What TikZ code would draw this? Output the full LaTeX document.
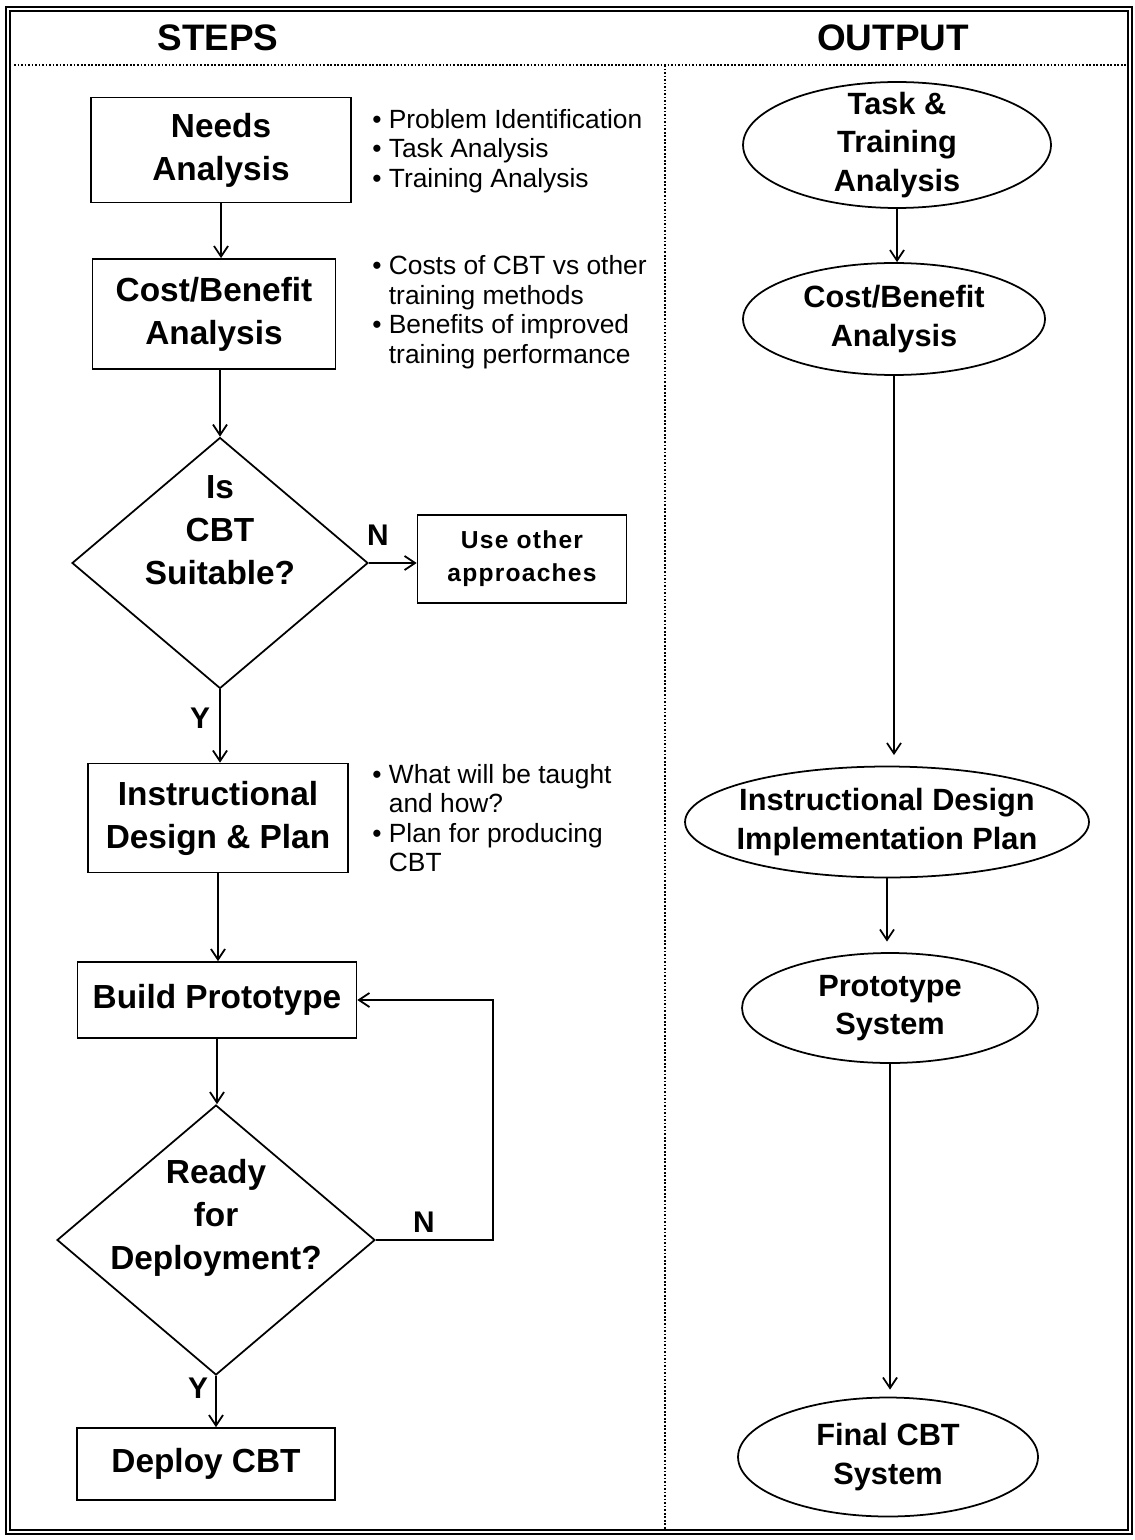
\documentclass[tikz,border=0pt]{standalone}
\usepackage{fontspec}
\setmainfont{Liberation Sans}
\newfontfamily\spacedfont[LetterSpace=5]{Liberation Sans}
\usetikzlibrary{shapes.geometric,arrows.meta}

\newcommand{\bul}{\textbullet\ }
\newcommand{\indt}{\hphantom{\textbullet\ }}

\begin{document}
\begin{tikzpicture}[x=0.02cm,y=-0.02cm,
    stepfont/.style={font=\bfseries\fontsize{19}{24.5}\selectfont,align=center},
    stepbox/.style={draw,line width=1pt,inner sep=0pt,stepfont},
    decision/.style={draw,diamond,line width=1pt,inner sep=0pt},
    outbox/.style={draw,ellipse,line width=1pt,inner sep=0pt},
    outtxt/.style={font=\bfseries\fontsize{17.5}{22}\selectfont,align=center},
    note/.style={anchor=west,inner sep=0pt,align=left,font=\fontsize{15}{16.8}\selectfont},
    yn/.style={font=\bfseries\fontsize{17}{17}\selectfont},
    arr/.style={line width=1pt,-{Straight Barb[length=6pt,width=8pt]}}]
    \useasboundingbox (0,0) rectangle (1134,1540);

    % frame and columns
    \draw[line width=0.8pt,double,double distance=1.5pt] (8,9) rectangle (1130,1532);
    \node[font=\bfseries\fontsize{21}{21}\selectfont] (steps) at (218,38) {STEPS};
    \node[font=\bfseries\fontsize{21}{21}\selectfont] (output) at (893,38) {OUTPUT};
    \draw[densely dotted,line width=1pt] (14,65) -- (1126,65);
    \draw[densely dotted,line width=1pt] (665,65) -- (665,1530);

    % steps
    \node[stepbox,minimum width=5.2cm,minimum height=2.1cm] (needs) at (221,150) {Needs\\Analysis};
    \node[stepbox,minimum width=4.86cm,minimum height=2.2cm] (cost) at (214,314) {Cost/Benefit\\Analysis};
    \node[decision,minimum width=5.92cm,minimum height=5.02cm,
        label={[stepfont,yshift=0.66cm]center:Is\\CBT\\Suitable?}] (suit) at (220,563) {};
    \node[stepbox,font=\spacedfont\bfseries\fontsize{14}{18.8}\selectfont,
        minimum width=4.18cm,minimum height=1.76cm] (other) at (522,559) {Use other\\approaches};
    \node[stepbox,minimum width=5.2cm,minimum height=2.18cm] (instr) at (218,818) {Instructional\\Design \& Plan};
    \node[stepbox,minimum width=5.58cm,minimum height=1.52cm] (build) at (217,1000) {Build Prototype};
    \node[decision,minimum width=6.36cm,minimum height=5.4cm,
        label={[stepfont,yshift=0.44cm]center:Ready\\for\\Deployment?}] (ready) at (216,1240) {};
    \node[stepbox,minimum width=5.16cm,minimum height=1.44cm] (deploy) at (206,1464) {Deploy CBT};

    \node[note] (needsnote) at (372,151) {\bul Problem Identification\\\bul Task Analysis\\\bul Training Analysis};
    \node[note] (costnote) at (372,312) {\bul Costs of CBT vs other\\\indt training methods\\\bul Benefits of improved\\\indt training performance};
    \node[note] (instrnote) at (372,818) {\bul What will be taught\\\indt and how?\\\bul Plan for producing\\\indt CBT};

    \node[yn] (n1) at (378,535) {N};
    \node[yn] (y1) at (200,718) {Y};
    \node[yn] (n2) at (424,1222) {N};
    \node[yn] (y2) at (198,1388) {Y};
    \coordinate (loop) at (493,1000);

    \draw[arr] (needs.south) -- (needs.south |- cost.north);
    \draw[arr] (suit.north |- cost.south) -- (suit.north);
    \draw[arr] (suit.east) -- (suit.east -| other.west);
    \draw[arr] (suit.south) -- (suit.south |- instr.north);
    \draw[arr] (instr.south) -- (instr.south |- build.north);
    \draw[arr] (build.south) -- (build.south |- ready.north);
    \draw[arr] (ready.east) -| (loop) -- (build.east);
    \draw[arr] (ready.south) -- (ready.south |- deploy.north);

    % output
    \node[outbox,minimum width=6.16cm,minimum height=2.52cm,
        label={[outtxt]center:Task \&\\Training\\Analysis}] (tta) at (897,145) {};
    \node[outbox,minimum width=6.04cm,minimum height=2.24cm,
        label={[outtxt]center:Cost/Benefit\\Analysis}] (cba) at (894,319) {};
    \node[outbox,minimum width=8.08cm,minimum height=2.22cm,
        label={[outtxt]center:Instructional Design\\Implementation Plan}] (idp) at (887,822) {};
    \node[outbox,minimum width=5.92cm,minimum height=2.2cm,
        label={[outtxt]center:Prototype\\System}] (proto) at (890,1008) {};
    \node[outbox,minimum width=6cm,minimum height=2.38cm,
        label={[outtxt]center:Final CBT\\System}] (final) at (888,1457) {};

    \draw[arr] (tta.south) -- (tta.south |- cba.north);
    \draw[arr,shorten >=6pt] (cba.south) -- (cba.south |- idp.north);
    \draw[arr,shorten >=6pt] (idp.south) -- (idp.south |- proto.north);
    \draw[arr,shorten >=4pt] (proto.south) -- (proto.south |- final.north);
\end{tikzpicture}
\end{document}
